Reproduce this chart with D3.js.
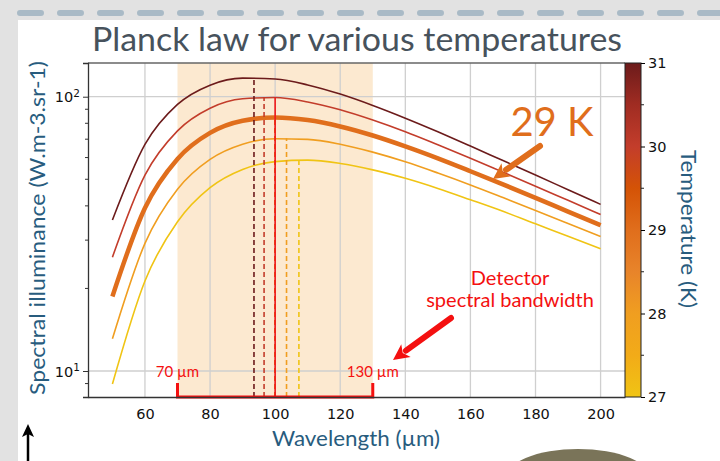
<!DOCTYPE html>
<html>
<head>
<meta charset="utf-8">
<script src="https://cdn.jsdelivr.net/npm/d3@7"></script>
<style>
  body { margin: 0; background: #e6e6e6; }
  svg { display: block; }
  .tick text { font-family: "DejaVu Sans", sans-serif; }
</style>
</head>
<body>
<div id="chart"></div>
<script>
// wavelengths (µm) sampled along each curve
var wavelengths = [50, 60, 70, 80, 90, 100, 110, 120, 130, 140, 150, 160, 170, 180, 190, 200];
var temps = [27, 28, 29, 30, 31];

// spectral radiance (W.m-3.sr-1)
var radiance27 = [8.97, 21.3, 35.0, 46.6, 54.3, 58.0, 58.7, 57.1, 54.1, 50.4, 46.3, 42.1, 38.2, 34.4, 31.0, 27.9];
var radiance28 = [13.1, 29.2, 46.0, 59.1, 67.1, 70.3, 69.9, 67.1, 62.8, 57.9, 52.7, 47.7, 42.9, 38.5, 34.5, 30.9];
var radiance29 = [18.7, 39.3, 59.3, 73.8, 81.7, 84.0, 82.2, 77.9, 72.2, 65.9, 59.6, 53.5, 47.9, 42.8, 38.1, 34.0];
var radiance30 = [26.0, 51.8, 75.1, 90.8, 98.3, 99.3, 95.7, 89.6, 82.2, 74.5, 66.8, 59.7, 53.1, 47.2, 41.9, 37.2];
var radiance31 = [35.5, 67.0, 93.7, 110.2, 116.9, 116.0, 110.4, 102.2, 92.9, 83.5, 74.5, 66.1, 58.5, 51.8, 45.8, 40.5];
var radianceByTemp = [radiance27, radiance28, radiance29, radiance30, radiance31];

// peak of each curve (dashed markers)
var peakWavelength = [107.3, 103.5, 99.9, 96.6, 93.5];
var peakRadiance = [58.8, 70.5, 84.0, 99.5, 117.3];

// detector band
var bandLimits = [70, 130];
var bandCenter = 100;
var bandCenterTop = 99.3;

var xTicks = [60, 80, 100, 120, 140, 160, 180, 200];
var yTicks = [10, 100];
var yMinorTicks = [9, 20, 30, 40, 50, 60, 70, 80, 90];
var cbTicks = [27, 28, 29, 30, 31];
var cbMinorTicks = [27.5, 28.5, 29.5, 30.5];

var svgWidth = 720;
var svgHeight = 461;
var margin = { top: 63, right: 95, bottom: 64, left: 88 };
var width = svgWidth - margin.left - margin.right;
var height = svgHeight - margin.top - margin.bottom;

var svg = d3.select("#chart")
  .append("svg")
  .attr("width", svgWidth)
  .attr("height", svgHeight);

// slide background
svg.append("rect").attr("width", svgWidth).attr("height", svgHeight).attr("fill", "#e2e2e2");
svg.append("rect").attr("x", 18).attr("y", 20).attr("width", svgWidth - 18).attr("height", svgHeight - 20).attr("fill", "#ffffff");
svg.append("line")
  .attr("x1", 20).attr("x2", 720).attr("y1", 13).attr("y2", 13)
  .attr("stroke", "#a9bac6").attr("stroke-width", 6)
  .attr("stroke-linecap", "round")
  .attr("stroke-dasharray", "21 19");
svg.append("ellipse")
  .attr("cx", 578).attr("cy", 480).attr("rx", 74).attr("ry", 31)
  .attr("fill", "#7a7459");
svg.append("line")
  .attr("x1", 28).attr("x2", 28).attr("y1", 461).attr("y2", 432)
  .attr("stroke", "#000").attr("stroke-width", 2.5);
svg.append("path").attr("d", "M22,437 L28,424 L34,437 L28,434 Z").attr("fill", "#000");

var chartGroup = svg.append("g")
  .attr("transform", `translate(${margin.left}, ${margin.top})`);

var xScale = d3.scaleLinear().domain([42.5, 207.5]).range([0, width]);
var yScale = d3.scaleLog().domain([8.04, 132.7]).range([height, 0]);

var colorScale = d3.scaleLinear()
  .domain([27, 27.5, 28, 28.5, 29, 29.5, 30, 30.5, 31])
  .range(["#f0c414", "#f2ab18", "#f09e20", "#e8842a", "#e06e1c", "#d45306", "#c33d2b", "#a02c22", "#6c1b1b"]);

// band shading
chartGroup.append("rect")
  .attr("x", xScale(bandLimits[0]))
  .attr("width", xScale(bandLimits[1]) - xScale(bandLimits[0]))
  .attr("y", 0)
  .attr("height", height)
  .attr("fill", "#fce9d0");

// grid
chartGroup.append("g").selectAll("line")
  .data(xTicks).enter().append("line")
  .attr("x1", d => xScale(d)).attr("x2", d => xScale(d))
  .attr("y1", 0).attr("y2", height)
  .attr("stroke", "#cfcfcf").attr("stroke-width", 1.3);
chartGroup.append("g").selectAll("line")
  .data(yTicks).enter().append("line")
  .attr("x1", 0).attr("x2", width)
  .attr("y1", d => yScale(d)).attr("y2", d => yScale(d))
  .attr("stroke", "#cfcfcf").attr("stroke-width", 1.3);

// curves
var line = d3.line()
  .x(d => xScale(d[0]))
  .y(d => yScale(d[1]))
  .curve(d3.curveMonotoneX);

temps.forEach(function(t, i) {
  var pts = wavelengths.map((w, j) => [w, radianceByTemp[i][j]]);
  chartGroup.append("path")
    .datum(pts)
    .attr("d", line)
    .attr("fill", "none")
    .attr("stroke", colorScale(t))
    .attr("stroke-width", t === 29 ? 4.5 : 1.6);
});

// peak markers
chartGroup.append("g").selectAll("line")
  .data(temps).enter().append("line")
  .attr("x1", (d, i) => xScale(peakWavelength[i]))
  .attr("x2", (d, i) => xScale(peakWavelength[i]))
  .attr("y1", height)
  .attr("y2", (d, i) => yScale(peakRadiance[i]))
  .attr("stroke", d => colorScale(d))
  .attr("stroke-width", 1.6)
  .attr("stroke-dasharray", "5 3");

chartGroup.append("line")
  .attr("x1", xScale(bandCenter)).attr("x2", xScale(bandCenter))
  .attr("y1", height).attr("y2", yScale(bandCenterTop))
  .attr("stroke", "#f01818").attr("stroke-width", 1.6);

// bandwidth bracket
chartGroup.append("path")
  .attr("d", `M${xScale(bandLimits[0])},${height - 14} L${xScale(bandLimits[0])},${height} L${xScale(bandLimits[1])},${height} L${xScale(bandLimits[1])},${height - 14}`)
  .attr("fill", "none")
  .attr("stroke", "#f41010")
  .attr("stroke-width", 3);

chartGroup.selectAll(".bandlabel")
  .data(bandLimits).enter().append("text")
  .attr("class", "bandlabel")
  .attr("x", d => xScale(d))
  .attr("y", yScale(10) + 6)
  .attr("text-anchor", "middle")
  .attr("font-family", "Lato, sans-serif")
  .attr("font-size", 15)
  .attr("fill", "#f41010")
  .text(d => d + " µm");

// frame
chartGroup.append("line").attr("x1", 0).attr("x2", width).attr("y1", 0).attr("y2", 0)
  .attr("stroke", "#666").attr("stroke-width", 1.3);

// axes
var bottomAxis = d3.axisBottom(xScale).tickValues(xTicks).tickSize(0).tickPadding(12).tickFormat(d3.format("d"));
var xAxis = chartGroup.append("g")
  .attr("transform", `translate(0, ${height})`)
  .call(bottomAxis);
xAxis.select(".domain").attr("stroke", "#333").attr("stroke-width", 1.3);
xAxis.selectAll(".tick text").attr("font-size", 14.5).attr("fill", "#111");

var leftAxis = d3.axisLeft(yScale).tickValues(yTicks).tickSize(5).tickFormat("");
var yAxis = chartGroup.append("g").call(leftAxis);
yAxis.select(".domain").attr("stroke", "#333").attr("stroke-width", 1.3);
yAxis.selectAll(".tick line").attr("stroke", "#333");
yAxis.selectAll(".tick").each(function(d) {
  var t = d3.select(this).append("text")
    .attr("x", -8).attr("dy", "0.35em")
    .attr("text-anchor", "end")
    .attr("font-size", 14.5)
    .attr("fill", "#111");
  t.append("tspan").text("10");
  t.append("tspan").attr("dy", "-0.55em").attr("font-size", 10.5).text(Math.round(Math.log10(d)));
});
chartGroup.append("g").selectAll("line")
  .data(yMinorTicks).enter().append("line")
  .attr("x1", -3).attr("x2", 0)
  .attr("y1", d => yScale(d)).attr("y2", d => yScale(d))
  .attr("stroke", "#333");

// colorbar
var cbX = width;
var cbWidth = 16;
var cbScale = d3.scaleLinear().domain([27, 31]).range([height, 0]);
var defs = svg.append("defs");
var grad = defs.append("linearGradient")
  .attr("id", "cbgrad")
  .attr("x1", 0).attr("x2", 0).attr("y1", 1).attr("y2", 0);
grad.selectAll("stop")
  .data(colorScale.domain()).enter().append("stop")
  .attr("offset", d => (d - 27) / 4)
  .attr("stop-color", d => colorScale(d));
chartGroup.append("rect")
  .attr("x", cbX).attr("y", 0)
  .attr("width", cbWidth).attr("height", height)
  .attr("fill", "url(#cbgrad)")
  .attr("stroke", "#222").attr("stroke-width", 1);
var cbAxis = chartGroup.append("g")
  .attr("transform", `translate(${cbX + cbWidth}, 0)`)
  .call(d3.axisRight(cbScale).tickValues(cbTicks).tickSize(4).tickPadding(3).tickFormat(d3.format("d")));
cbAxis.select(".domain").remove();
cbAxis.selectAll(".tick text").attr("font-size", 14.5).attr("fill", "#111");
chartGroup.append("g").selectAll("line")
  .data(cbMinorTicks).enter().append("line")
  .attr("x1", cbX + cbWidth).attr("x2", cbX + cbWidth + 3)
  .attr("y1", d => cbScale(d)).attr("y2", d => cbScale(d))
  .attr("stroke", "#222");

// labels
var labelColor = "#285c7e";
svg.append("text")
  .attr("x", 357).attr("y", 51)
  .attr("text-anchor", "middle")
  .attr("font-family", "Lato, sans-serif")
  .attr("font-size", 33)
  .attr("fill", "#47525c")
  .attr("textLength", 530)
  .attr("lengthAdjust", "spacingAndGlyphs")
  .text("Planck law for various temperatures");

svg.append("text")
  .attr("transform", `translate(45, ${margin.top + height / 2 - 2}) rotate(-90)`)
  .attr("text-anchor", "middle")
  .attr("font-family", "Lato, sans-serif")
  .attr("font-size", 21)
  .attr("fill", labelColor)
  .attr("textLength", 334)
  .attr("lengthAdjust", "spacingAndGlyphs")
  .text("Spectral illuminance (W.m-3.sr-1)");

svg.append("text")
  .attr("x", 356).attr("y", 446)
  .attr("text-anchor", "middle")
  .attr("font-family", "Lato, sans-serif")
  .attr("font-size", 21)
  .attr("fill", labelColor)
  .attr("textLength", 168)
  .attr("lengthAdjust", "spacingAndGlyphs")
  .text("Wavelength (µm)");

svg.append("text")
  .attr("transform", `translate(681, ${margin.top + height / 2 - 1}) rotate(90)`)
  .attr("text-anchor", "middle")
  .attr("font-family", "Lato, sans-serif")
  .attr("font-size", 21)
  .attr("fill", labelColor)
  .attr("textLength", 158)
  .attr("lengthAdjust", "spacingAndGlyphs")
  .text("Temperature (K)");

// annotations
svg.append("text")
  .attr("x", 552).attr("y", 136)
  .attr("text-anchor", "middle")
  .attr("font-family", "Lato, sans-serif")
  .attr("font-size", 40)
  .attr("fill", colorScale(29))
  .text("29 K");

function arrow(x1, y1, x2, y2, color, w) {
  var ang = Math.atan2(y2 - y1, x2 - x1);
  var headLen = 16, headW = 8;
  var bx = x2 - headLen * Math.cos(ang), by = y2 - headLen * Math.sin(ang);
  svg.append("line")
    .attr("x1", x1).attr("y1", y1).attr("x2", bx).attr("y2", by)
    .attr("stroke", color).attr("stroke-width", w).attr("stroke-linecap", "round");
  var px = -Math.sin(ang) * headW, py = Math.cos(ang) * headW;
  svg.append("path")
    .attr("d", `M${x2},${y2} L${bx + px},${by + py} L${bx + 4 * Math.cos(ang)},${by + 4 * Math.sin(ang)} L${bx - px},${by - py} Z`)
    .attr("fill", color);
}
arrow(540, 146, 493, 179, colorScale(29), 6);
arrow(451, 318, 393, 360, "#f41010", 6);

var det = svg.append("text")
  .attr("text-anchor", "middle")
  .attr("font-family", "Lato, sans-serif")
  .attr("font-size", 20)
  .attr("fill", "#f41010");
det.append("tspan").attr("x", 510).attr("y", 285).text("Detector");
det.append("tspan").attr("x", 510).attr("y", 307).text("spectral bandwidth");
</script>
</body>
</html>
